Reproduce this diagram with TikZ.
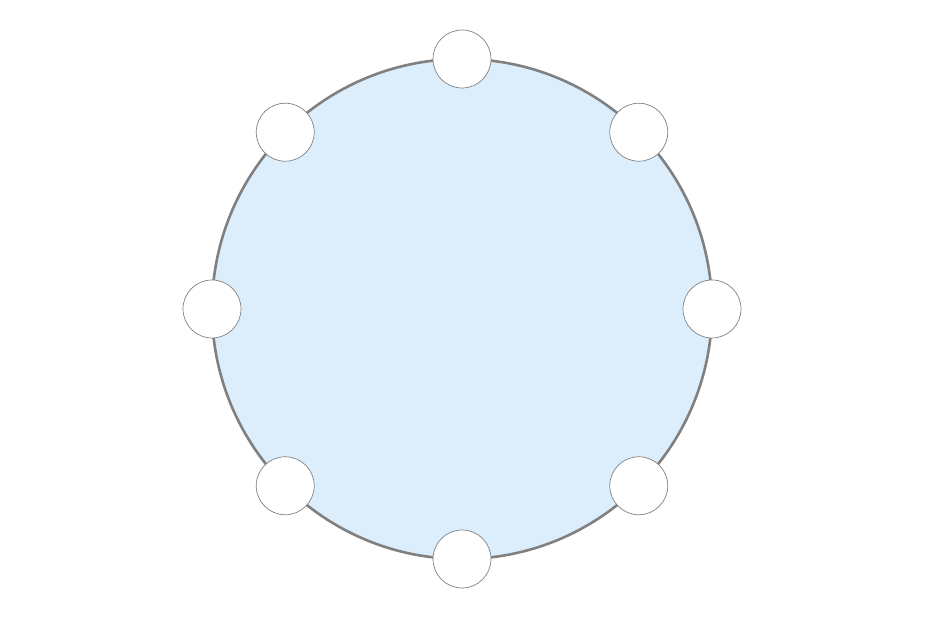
\documentclass[tikz,border=0pt]{standalone}
\definecolor{ringfill}{HTML}{DCEEFC}
\definecolor{ringline}{HTML}{808080}
\tikzset{
	seat/.style={circle,draw=ringline,line width=0.7pt,fill=white,minimum size=58pt,inner sep=0pt},
	table/.style={draw=ringline,line width=2.6pt,fill=ringfill}
}
\begin{document}
\begin{tikzpicture}[x=1pt,y=1pt,declare function={r=250;}]
	\useasboundingbox (0,0) rectangle (926,617);
	\path (462,308) coordinate (O);
	\draw[table] (O) circle (r);
	\foreach \a/\n in {90/N, 45/NE, 0/E, -45/SE, -90/S, -135/SW, 180/W, 135/NW}{
		\node[seat] (seat\n) at ([shift={(\a:r)}]O) {};
	}
\end{tikzpicture}
\end{document}
